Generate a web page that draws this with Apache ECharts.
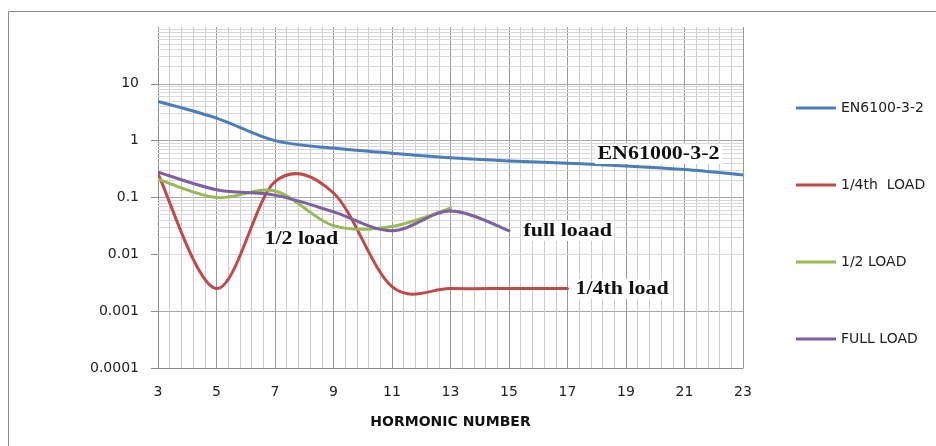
<!DOCTYPE html>
<html>
<head>
<meta charset="utf-8">
<script src="https://cdn.jsdelivr.net/npm/echarts@6/dist/echarts.min.js"></script>
<style>
html,body{margin:0;padding:0;background:#fff;}
#chart{width:936px;height:446px;}
</style>
</head>
<body>
<div id="chart"></div>
<script>
// ---- data ----
const harmonicsLimit = [3, 5, 7, 9, 11, 13, 15, 17, 19, 21, 23];
const limitValues    = [4.9, 2.5, 1.0, 0.74, 0.6, 0.5, 0.44, 0.4, 0.36, 0.31, 0.25];

const harmonicsQuarter = [3, 5, 7, 9, 11, 13, 15, 17];
const quarterValues    = [0.26, 0.0025, 0.19, 0.12, 0.0027, 0.0025, 0.0025, 0.0025];

const harmonicsHalf = [3, 5, 7, 9, 11, 13];
const halfValues    = [0.21, 0.10, 0.13, 0.032, 0.031, 0.065];

const harmonicsFull = [3, 5, 7, 9, 11, 13, 15];
const fullValues    = [0.28, 0.137, 0.11, 0.056, 0.026, 0.058, 0.026];

const seriesNames = ['EN6100-3-2', '1/4th  LOAD', '1/2 LOAD', 'FULL LOAD'];
const seriesColors = ['#4A7EBB', '#BE4B48', '#98B954', '#7D60A0'];

const xTicks = [3, 5, 7, 9, 11, 13, 15, 17, 19, 21, 23];
const yTickValues = [0.0001, 0.001, 0.01, 0.1, 1, 10];
const yTickLabels = ['0.0001', '0.001', '0.01', '0.1', '1', '10', ''];   // 1e-4 ... 1e2

const annotations = [
  { text: 'EN61000-3-2', x: 595, y: 154 },
  { text: 'full loaad',  x: 521, y: 231 },
  { text: '1/4th load',  x: 573, y: 289 },
  { text: '1/2 load',    x: 262, y: 239 }
];
// --------------------------------------

// Excel-style log minor gridlines (2..9 of each decade)
const minorY = [];
for (let e = -4; e < 2; e++) {
  for (let m = 2; m <= 9; m++) minorY.push({ yAxis: m * Math.pow(10, e) });
}

// Smoothed line (Excel-like Bezier) drawn through the axes' own scales via api.coord
function smoothSeries(name, color, xs, ys) {
  const n = xs.length;
  return {
    name: name,
    type: 'custom',
    coordinateSystem: 'cartesian2d',
    data: xs.map((x, i) => [x, ys[i]]),
    encode: { x: 0, y: 1 },
    itemStyle: { color: color },
    z: 3,
    clip: true,
    renderItem: function (params, api) {
      const i = params.dataIndex;
      if (i >= n - 1) return null;
      const P = k => {
        const j = Math.max(0, Math.min(n - 1, k));
        return api.coord([xs[j], ys[j]]);
      };
      const p0 = P(i - 1), p1 = P(i), p2 = P(i + 1), p3 = P(i + 2);
      const c1 = [p1[0] + (p2[0] - p0[0]) / 6, p1[1] + (p2[1] - p0[1]) / 6];
      const c2 = [p2[0] - (p3[0] - p1[0]) / 6, p2[1] - (p3[1] - p1[1]) / 6];
      return {
        type: 'bezierCurve',
        silent: true,
        shape: { x1: p1[0], y1: p1[1], x2: p2[0], y2: p2[1],
                 cpx1: c1[0], cpy1: c1[1], cpx2: c2[0], cpy2: c2[1] },
        style: { stroke: color, lineWidth: 3, fill: null, lineCap: 'round' }
      };
    }
  };
}

const lineSeries = [
  smoothSeries(seriesNames[0], seriesColors[0], harmonicsLimit, limitValues),
  smoothSeries(seriesNames[1], seriesColors[1], harmonicsQuarter, quarterValues),
  smoothSeries(seriesNames[2], seriesColors[2], harmonicsHalf, halfValues),
  smoothSeries(seriesNames[3], seriesColors[3], harmonicsFull, fullValues)
];

lineSeries[0].markLine = {
  silent: true,
  symbol: 'none',
  animation: false,
  z: 1,
  label: { show: false },
  emphasis: { disabled: true },
  lineStyle: { type: 'solid', color: '#d8d8d8', width: 1 },
  data: minorY
};

const chart = echarts.init(document.getElementById('chart'), null, { renderer: 'canvas' });

const option = {
  animation: false,
  backgroundColor: '#fff',
  textStyle: { fontFamily: 'DejaVu Sans' },
  grid: { left: 158, right: 193, top: 27, bottom: 78, containLabel: false, outerBoundsMode: 'none' },
  legend: {
    orient: 'vertical',
    left: 791,
    top: 95,
    itemGap: 61,
    itemWidth: 40,
    itemHeight: 3,
    icon: 'rect',
    selectedMode: false,
    data: seriesNames,
    textStyle: { fontFamily: 'DejaVu Sans', fontSize: 14, color: '#222', lineHeight: 16 }
  },
  xAxis: {
    type: 'value',
    min: 3, max: 23, interval: 2,
    name: 'HORMONIC NUMBER',
    nameLocation: 'middle',
    nameGap: 47,
    nameTextStyle: { fontFamily: 'DejaVu Sans', fontWeight: 'bold', fontSize: 14, color: '#111' },
    axisLine: { show: true, lineStyle: { color: '#8c8c8c', width: 1 } },
    axisTick: { show: false },
    axisLabel: {
      margin: 17, fontSize: 14, color: '#222',
      formatter: v => (xTicks.indexOf(v) >= 0 ? String(v) : '')
    },
    splitLine: { show: true, lineStyle: { color: '#999999', width: 1 } },
    minorTick: { show: false, splitNumber: 5 },
    minorSplitLine: { show: true, lineStyle: { color: '#cccccc', width: 1 } }
  },
  yAxis: {
    type: 'log',
    logBase: 10,
    min: 0.0001, max: 100,
    axisLine: { show: true, lineStyle: { color: '#8c8c8c', width: 1 } },
    axisTick: { show: true, inside: false, length: 7, lineStyle: { color: '#8c8c8c' },
                customValues: yTickValues },
    axisLabel: {
      margin: 19, fontSize: 14, color: '#222',
      formatter: v => {
        const k = Math.round(Math.log10(v)) + 4;
        return yTickLabels[k] !== undefined ? yTickLabels[k] : '';
      }
    },
    splitLine: { show: true, lineStyle: { color: '#a8a8a8', width: 1 } },
    minorTick: { show: false },
    minorSplitLine: { show: false }
  },
  graphic: [
    {
      type: 'rect', silent: true, z: -10,
      shape: { x: 8.5, y: 11.5, width: 940, height: 450 },
      style: { fill: 'none', stroke: '#8a8a8a', lineWidth: 1 }
    }
  ].concat(annotations.map(a => ({
    type: 'text', silent: true, z: 100,
    x: a.x, y: a.y, scaleX: 1.22, scaleY: 1,
    style: {
      text: a.text,
      font: 'bold 18px "Liberation Serif"',
      fill: '#111',
      textAlign: 'left',
      textVerticalAlign: 'middle',
      backgroundColor: '#fff',
      padding: [1, 2, 1, 2]
    }
  }))),
  series: lineSeries
};

chart.setOption(option);
</script>
</body>
</html>
